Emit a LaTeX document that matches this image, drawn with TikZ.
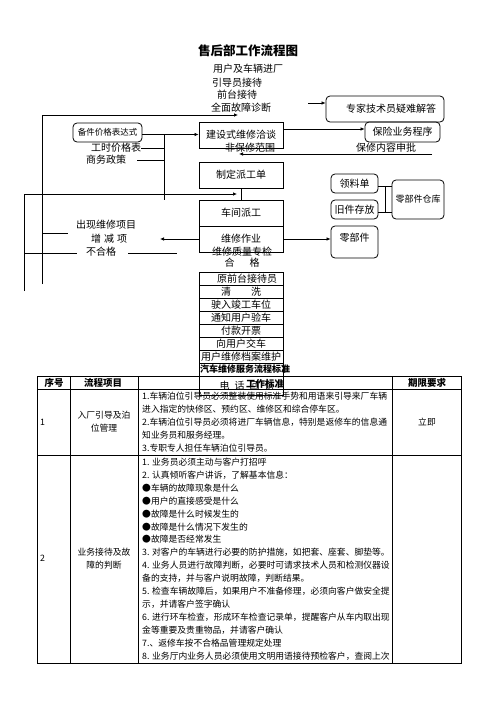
\documentclass[tikz,border=0pt]{standalone}
\usepackage{fontspec}
\setmainfont{Noto Sans CJK SC}
\usetikzlibrary{arrows.meta}
\begin{document}
\begin{tikzpicture}[x=1pt,y=-1pt,
  every node/.style={inner sep=0pt, font=\fontsize{10}{12}\selectfont},
  box/.style={draw, line width=0.8pt, inner sep=0pt},
  rbox/.style={box, rounded corners=4pt},
  ln/.style={line width=0.7pt},
  arr/.style={ln, -{Latex[length=4pt,width=3.5pt]}},
  cell/.style={font=\fontsize{8.8}{10}\selectfont, anchor=west},
  cellc/.style={font=\fontsize{8.8}{10}\selectfont},
  hdr/.style={font=\bfseries\fontsize{9.5}{11}\selectfont},
  grid/.style={line width=0.8pt},
  fbox/.style={box, minimum width=84pt, minimum height=26pt},
  srow/.style={box, minimum width=84pt, minimum height=13pt}
]
\useasboundingbox[fill=white] (0,0) rectangle (496,702);

% title and top texts
\node[font=\bfseries\fontsize{12.5}{14}\selectfont] (title) at (248,51) {售后部工作流程图};
\node (t1) at (248,69) {用户及车辆进厂};
\node (t2) at (237,83) {引导员接待};
\node (t3) at (237,95) {前台接待};
\node (t4) at (241,108) {全面故障诊断};

\node[rbox, minimum width=118pt, minimum height=26pt] (zhuanjia) at (385,109) {\hspace{12pt}专家技术员疑难解答};

% negotiation row
\node[rbox, minimum width=69pt, minimum height=19pt, font=\fontsize{8.5}{10}\selectfont] (beijian) at (107.5,132.5) {备件价格表达式};
\node[fbox] (jianshe) at (241,135) {建设式维修洽谈};
\node (feibao) at (250,148) {非保修范围};
\node (gongshi) at (116,148) {工时价格表};
\node (shangwu) at (106,160) {商务政策};
\node[rbox, minimum width=75pt, minimum height=20pt] (baoxian) at (402.5,132) {保险业务程序};
\node (shenpi) at (386,148) {保修内容申批};

\node[fbox] (zhiding) at (241,175) {制定派工单};
\node[fbox] (chejian) at (241,213) {车间派工};
\node[fbox] (weixiu) at (241,239) {\raisebox{1pt}{维修作业}};
\node (zhijian) at (242,252) {维修质量专检};
\node (hege) at (242,263) {合\hspace{1.5em}格};

% left texts
\node (chuxian) at (106,225) {出现维修项目};
\node (zengjian) at (109,239) {增\hspace{0.3em}减\hspace{0.3em}项};
\node (buhege) at (101,252) {不合格};

% parts
\node[rbox, minimum width=47pt, minimum height=19pt] (lingliao) at (354.5,183.5) {领料单};
\node[rbox, minimum width=47pt, minimum height=19pt] (jiujian) at (354.5,209.5) {旧件存放};
\node[rbox, minimum width=52pt, minimum height=39pt, font=\fontsize{9}{10}\selectfont] (cangku) at (418,199.5) {零部件仓库};
\node[rbox, minimum width=47pt, minimum height=32pt, text height=10pt, text depth=12pt] (lingbujian) at (354.5,242) {零部件};

% stack
\node[srow] (s1) at (241,278.5) {\hspace{12pt}原前台接待员};
\node[srow] (s2) at (241,291.5) {清\hspace{2em}洗};
\node[srow] (s3) at (241,304.5) {驶入竣工车位\hspace{6pt}};
\node[srow] (s4) at (241,317.5) {通知用户验车\hspace{6pt}};
\node[srow] (s5) at (241,330.5) {付款开票};
\node[srow] (s6) at (241,343.5) {向用户交车};
\node[srow] (s7) at (241,356.5) {用户维修档案维护};
\node[srow] (s8) at (241,369.5) {};
\node[box, minimum width=84pt, minimum height=19pt] (s9) at (241,385.5) {\hspace{12pt}电\hspace{0.5em}话\hspace{0.5em}回\hspace{0.5em}访};
\node[font=\bfseries\fontsize{9}{10}\selectfont] (caption) at (245,369) {汽车维修服务流程标准};

% connectors
\coordinate (a1) at (42,284);
\coordinate (a2) at (238,115);
\draw[arr] (a1) |- (a2);
\coordinate (z0) at (308,103);
\draw[arr] (z0) -- (z0 -| zhuanjia.west);
\draw[arr] ([yshift=-2pt]beijian.east) -- ([yshift=-2pt]beijian.east -| jianshe.west);
\coordinate (v1) at (164,134.5);
\coordinate (v2) at (164,200);
\draw[ln] (v1) -- (v2);
\draw[ln] (gongshi.east) -- (gongshi.east -| v1);
\draw[ln] ([xshift=11pt]shangwu.east) -- (shangwu.east -| v1);
\draw[arr] ([yshift=6pt]jianshe.east) -- ([yshift=6pt]jianshe.east -| baoxian.west);
\coordinate (b0) at (432,154);
\coordinate (b1) at (239,154);
\draw[arr] (b0) -- (b1);
\coordinate (c0) at (24,291);
\coordinate (c1) at (237,194);
\draw[arr] (c0) |- (c1);
\draw[ln] (zhiding.south) -- (chejian.north);
\coordinate (w1) at (160,239);
\draw[arr] (weixiu.west) -- (w1);
\coordinate (d0) at (42,233);
\coordinate (d1) at (68,233);
\draw[ln] (d0) -- (d1);
\coordinate (e0) at (24,253);
\coordinate (e1) at (77,253);
\coordinate (e2) at (128,253);
\coordinate (e3) at (177,253);
\draw[ln] (e0) -- (e1);
\draw[ln] (e2) -- (e3);
\draw[arr] (weixiu.east) -- (weixiu.east -| lingbujian.west);
\draw[ln] ([yshift=-3pt]lingliao.east) -- ([yshift=-3pt]lingliao.east -| cangku.west);
\draw[ln] ([yshift=-3pt]jiujian.east) -- ([yshift=-3pt]jiujian.east -| cangku.west);
\draw[ln] ([xshift=7pt,yshift=-3pt]lingliao.east) -- ([xshift=7pt,yshift=-3pt]jiujian.east);

% table
\draw[grid] (37,376) rectangle (461,663);
\draw[grid] (37,389) -- (461,389);
\draw[grid] (37,455) -- (461,455);
\draw[grid] (70,376) -- (70,663);
\draw[grid] (138,376) -- (138,663);
\draw[grid] (392,376) -- (392,663);
\node[hdr] (h1) at (54,383) {序号};
\node[hdr] (h2) at (103,383) {流程项目};
\node[hdr] (h3) at (265,384) {工作标准};
\node[hdr] (h4) at (427,383) {期限要求};

\node[cell] (r1n) at (40,422) {1};
\node[cellc] (r1a) at (104,415) {入厂引导及泊};
\node[cellc] (r1b) at (104,428) {位管理};
\node[cellc] (r1t) at (427,422) {立即};
\foreach \t [count=\i from 0] in {%
  {1.车辆泊位引导员必须整装使用标准手势和用语来引导来厂车辆},
  {进入指定的快修区、预约区、维修区和综合停车区。},
  {2.车辆泊位引导员必须将进厂车辆信息，特别是返修车的信息通},
  {知业务员和服务经理。},
  {3.专职专人担任车辆泊位引导员。}}
  \node[cell] (r1l\i) at (142,{396+13*\i}) {\t};

\node[cell] (r2n) at (40,558) {2};
\node[cellc] (r2a) at (104,552) {业务接待及故};
\node[cellc] (r2b) at (104,565) {障的判断};
\foreach \t [count=\i from 0] in {%
  {1. 业务员必须主动与客户打招呼},
  {2. 认真倾听客户讲诉，了解基本信息：},
  {●车辆的故障现象是什么},
  {●用户的直接感受是什么},
  {●故障是什么时候发生的},
  {●故障是什么情况下发生的},
  {●故障是否经常发生},
  {3. 对客户的车辆进行必要的防护措施，如把套、座套、脚垫等。},
  {4. 业务人员进行故障判断，必要时可请求技术人员和检测仪器设},
  {备的支持，并与客户说明故障，判断结果。},
  {5. 检查车辆故障后，如果用户不准备修理，必须向客户做安全提},
  {示，并请客户签字确认},
  {6. 进行环车检查，形成环车检查记录单，提醒客户从车内取出现},
  {金等重要及贵重物品，并请客户确认},
  {7.、返修车按不合格品管理规定处理},
  {8. 业务厅内业务人员必须使用文明用语接待预检客户，查阅上次}}
  \node[cell] (r2l\i) at (142,{462+12.93*\i}) {\t};
\end{tikzpicture}
\end{document}
